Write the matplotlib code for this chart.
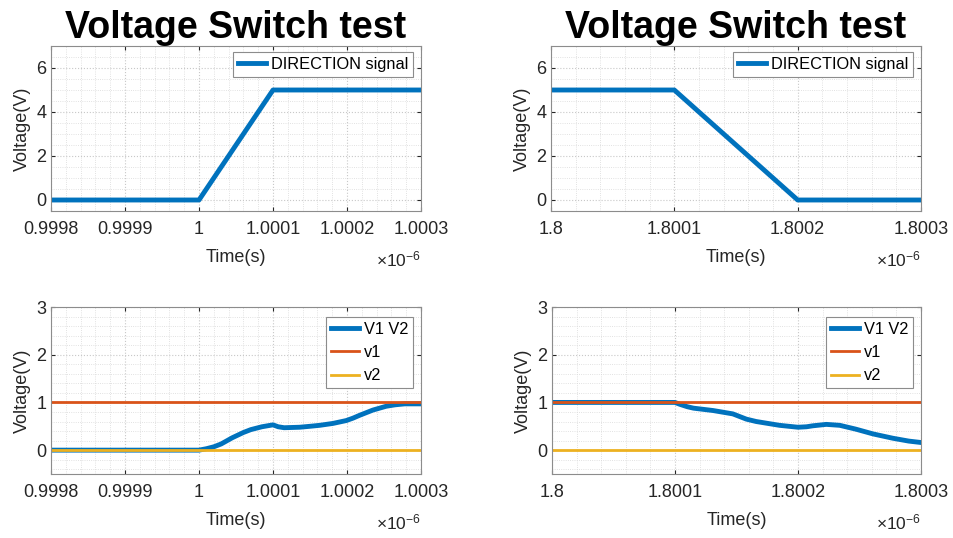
import matplotlib
matplotlib.use('Agg')
import matplotlib.pyplot as plt
from matplotlib.ticker import FixedLocator, FuncFormatter, MultipleLocator

plt.rcParams['font.family'] = ['Liberation Sans', 'DejaVu Sans']
plt.rcParams['mathtext.fontset'] = 'custom'
plt.rcParams['mathtext.rm'] = 'Liberation Sans'
plt.rcParams['mathtext.it'] = 'Liberation Sans'

# time in units of 1e-6 s
dir_t_left = [0.9998, 1.0000, 1.0001, 1.0003]
dir_v_left = [0, 0, 5, 5]
dir_t_right = [1.8, 1.8001, 1.8002, 1.8003]
dir_v_right = [5, 5, 0, 0]

v12_t_left = [0.9998, 1.0000, 1.00001, 1.00002, 1.00003, 1.000045, 1.00006, 1.00007,
              1.000085, 1.0001, 1.000107, 1.000115, 1.000136, 1.00015, 1.000163,
              1.000181, 1.000199, 1.000208, 1.000217, 1.000235, 1.000253, 1.000265,
              1.000278, 1.0003]
v12_v_left = [0, 0, 0.03, 0.07, 0.13, 0.26, 0.37, 0.43, 0.49, 0.53, 0.49, 0.47, 0.48,
              0.50, 0.52, 0.56, 0.62, 0.67, 0.73, 0.84, 0.92, 0.95, 0.97, 0.97]
v12_t_right = [1.8, 1.8001, 1.800104, 1.80011, 1.800115, 1.800131, 1.800147, 1.800153,
               1.800158, 1.800166, 1.800185, 1.8002, 1.800207, 1.800212, 1.800223,
               1.800234, 1.800247, 1.800261, 1.800277, 1.80029, 1.8003]
v12_v_right = [1.0, 1.0, 0.96, 0.91, 0.88, 0.83, 0.76, 0.70, 0.65, 0.60, 0.52, 0.48,
               0.49, 0.51, 0.54, 0.52, 0.44, 0.34, 0.25, 0.19, 0.16]
v1_level = 1.0
v2_level = 0.0

xticks_left = [0.9998, 0.9999, 1.0, 1.0001, 1.0002, 1.0003]
xticks_right = [1.8, 1.8001, 1.8002, 1.8003]

blue = '#0072BD'
orange = '#D95319'
yellow = '#EDB120'
txt = '#262626'

fig = plt.figure(figsize=(9.54, 5.38), dpi=100)
W, H = 954, 538


def make_ax(l, t, r, b):
    return fig.add_axes([l / W, 1 - b / H, (r - l) / W, (b - t) / H])


def style(ax, xticks, ylim, ymajor, yminor):
    ax.set_xlim(xticks[0], xticks[-1])
    ax.set_ylim(*ylim)
    ax.xaxis.set_major_locator(FixedLocator(xticks))
    ax.xaxis.set_major_formatter(FuncFormatter(lambda v, p: '%g' % round(v, 6)))
    ax.xaxis.set_minor_locator(MultipleLocator(0.00002))
    ax.yaxis.set_major_locator(MultipleLocator(ymajor))
    ax.yaxis.set_minor_locator(MultipleLocator(yminor))
    ax.grid(which='major', color='#c8c8c8', linestyle=':', linewidth=0.8)
    ax.grid(which='minor', color='#d8d8d8', linestyle=':', linewidth=0.6)
    ax.set_axisbelow(True)
    ax.tick_params(which='both', direction='in', top=True, right=True,
                   labelsize=13, colors=txt, length=3)
    ax.tick_params(which='minor', length=0)
    ax.tick_params(axis='x', pad=7)
    for s in ax.spines.values():
        s.set_color('#8c8c8c')
        s.set_linewidth(0.8)
    ax.set_xlabel('Time(s)', fontsize=13, color=txt, labelpad=8)
    ax.set_ylabel('Voltage(V)', fontsize=13, color=txt, labelpad=4)
    ax.annotate(r'$\times10^{-6}$', xy=(1.0, 0.0), xycoords='axes fraction',
                xytext=(0, -35), textcoords='offset points', ha='right',
                va='center', fontsize=12.5, color=txt)


def add_legend(ax, pad_top):
    leg = ax.legend(loc='upper right', fontsize=11.8, fancybox=False, framealpha=1,
                    edgecolor='#8c8c8c', handlelength=1.7, borderaxespad=0,
                    bbox_to_anchor=(1 - 8 / 370, 1 - pad_top / ax.bbox.height),
                    borderpad=0.3, handletextpad=0.3, labelspacing=0.5)
    leg.get_frame().set_linewidth(0.8)


ax1 = make_ax(51, 46, 421, 211)
ax2 = make_ax(551, 46, 921, 211)
ax3 = make_ax(51, 307, 421, 474)
ax4 = make_ax(552, 307, 921, 474)

for ax, t, v, ticks in [(ax1, dir_t_left, dir_v_left, xticks_left),
                        (ax2, dir_t_right, dir_v_right, xticks_right)]:
    ax.plot(t, v, color=blue, linewidth=3.5, label='DIRECTION signal')
    style(ax, ticks, (-0.5, 7), 2, 0.5)
    ax.set_title('Voltage Switch test', fontsize=27, fontweight='bold', pad=5)
    add_legend(ax, 6)

for ax, t, v, ticks in [(ax3, v12_t_left, v12_v_left, xticks_left),
                        (ax4, v12_t_right, v12_v_right, xticks_right)]:
    ax.plot(t, v, color=blue, linewidth=3.5, label='V1 V2')
    ax.axhline(v1_level, color=orange, linewidth=2, label='v1')
    ax.axhline(v2_level, color=yellow, linewidth=2, label='v2')
    style(ax, ticks, (-0.5, 3), 1, 0.2)
    add_legend(ax, 10)

fig.savefig('out.png', dpi=100)
